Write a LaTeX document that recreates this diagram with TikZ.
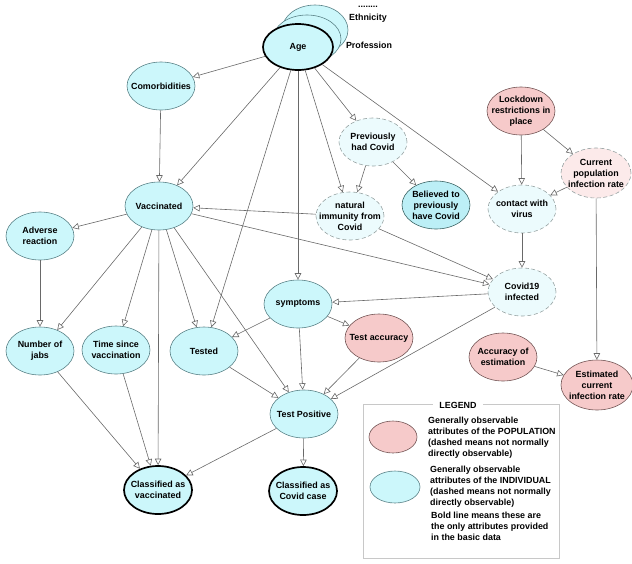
\documentclass[tikz,border=0pt]{standalone}
\usepackage{fontspec}
\setmainfont{Liberation Sans}
\usetikzlibrary{shapes.geometric,arrows.meta}
\definecolor{cyanfill}{RGB}{204,247,251}
\definecolor{cyanedge}{RGB}{90,130,135}
\definecolor{cyanlight}{RGB}{236,251,253}
\definecolor{dashedge}{RGB}{150,162,162}
\definecolor{pinkfill}{RGB}{246,202,202}
\definecolor{pinkedge}{RGB}{115,85,85}
\definecolor{pinklight}{RGB}{252,234,234}
\definecolor{belfill}{RGB}{188,239,246}
\definecolor{beledge}{RGB}{60,100,100}
\definecolor{edgec}{RGB}{105,105,105}
\definecolor{legedge}{RGB}{200,200,200}
\newcommand\lbl{\fontsize{8.9}{11}\selectfont\bfseries}
\tikzset{
  base/.style={ellipse, draw, minimum width=68pt, minimum height=48pt, inner sep=-10pt, align=center, font=\lbl, line width=0.6pt},
  ind/.style={base, fill=cyanfill, draw=cyanedge},
  indd/.style={base, fill=cyanlight, draw=dashedge, dash pattern=on 4pt off 2.5pt},
  pop/.style={base, fill=pinkfill, draw=pinkedge},
  popd/.style={base, fill=pinklight, draw=dashedge, dash pattern=on 4pt off 2.5pt},
  boldline/.style={line width=1.7pt, draw=black},
  arr/.style={draw=edgec, line width=0.6pt, -{Triangle[open, length=6.5pt, width=6.5pt]}},
  txt/.style={font=\lbl, inner sep=0pt},
  legtxt/.style={font=\lbl, inner sep=0pt, align=left, anchor=north west},
}
\begin{document}
\begin{tikzpicture}[x=1pt,y=-1pt]
\useasboundingbox (0,0) rectangle (632,563);
% Age stack
\node[ind, minimum width=66pt, minimum height=50pt] (agebackA) at (315,30) {};
\node[ind, minimum width=68pt, minimum height=48pt] (agebackB) at (307,39) {};
\node[ind, boldline, minimum width=70pt, minimum height=46pt] (age) at (298,47) {Age};
\node[txt] (dots) at (368,7) {........};
\node[txt] (eth) at (368,18) {Ethnicity};
\node[txt] (prof) at (369,45) {Profession};
% nodes
\node[ind] (com) at (161,86) {Comorbidities};
\node[ind] (vac) at (159,206) {Vaccinated};
\node[ind] (adv) at (40,236) {Adverse\\reaction};
\node[ind] (jabs) at (40,351) {Number of\\jabs};
\node[ind] (tsv) at (116,350) {Time since\\vaccination};
\node[ind] (tested) at (204,351) {Tested};
\node[ind] (sym) at (298,304) {symptoms};
\node[pop] (tacc) at (379,338) {Test accuracy};
\node[indd] (cov) at (522,292) {Covid19\\infected};
\node[pop] (aest) at (503,357) {Accuracy of\\estimation};
\node[pop, minimum width=72pt, minimum height=50pt] (ecir) at (597,385) {Estimated\\current\\infection rate};
\node[pop] (lock) at (521,111) {Lockdown\\restrictions in\\place};
\node[popd, minimum width=70pt, minimum height=50pt] (cpir) at (596,173) {Current\\population\\infection rate};
\node[indd] (cwv) at (522,209) {contact with\\virus};
\node[indd] (prev) at (373,142) {Previously\\had Covid};
\node[indd] (nat) at (350,216) {natural\\immunity from\\Covid};
\node[base, fill=belfill, draw=beledge] (bel) at (436,205) {Believed to\\previously\\have Covid};
\node[ind] (tpos) at (304,414) {Test Positive};
\node[ind, boldline] (clv) at (158,490) {Classified as\\vaccinated};
\node[ind, boldline] (clc) at (303,491) {Classified as\\Covid case};
% edges
\draw[arr] (age) -- (com);
\draw[arr] (age) -- (vac);
\draw[arr] (age) -- (tested);
\draw[arr] (age) -- (sym);
\draw[arr] (age) -- (nat);
\draw[arr] (age) -- (prev);
\draw[arr] (age) -- (cwv);
\draw[arr] (com) -- (vac);
\draw[arr] (vac) -- (adv);
\draw[arr] (vac) -- (jabs);
\draw[arr] (vac) -- (tsv);
\draw[arr] (vac) -- (clv);
\draw[arr] (vac) -- (tested);
\draw[arr] (vac) -- (tpos);
\draw[arr] (vac) -- (cov);
\draw[arr] (nat) -- (vac);
\draw[arr] (nat) -- (cov);
\draw[arr] (prev) -- (nat);
\draw[arr] (prev) -- (bel);
\draw[arr] (adv) -- (jabs);
\draw[arr] (jabs) -- (clv);
\draw[arr] (tsv) -- (clv);
\draw[arr] (sym) -- (tested);
\draw[arr] (sym) -- (tacc);
\draw[arr] (sym) -- (tpos);
\draw[arr] (tested) -- (tpos);
\draw[arr] (tacc) -- (tpos);
\draw[arr] (cov) -- (sym);
\draw[arr] (cov) -- (tpos);
\draw[arr] (cwv) -- (cov);
\draw[arr] (lock) -- (cwv);
\draw[arr] (lock) -- (cpir);
\draw[arr] (cpir) -- (cwv);
\draw[arr] (cpir) -- (ecir);
\draw[arr] (aest) -- (ecir);
\draw[arr] (tpos) -- (clv);
\draw[arr] (tpos) -- (clc);
% legend
\node[draw=legedge, line width=0.6pt, minimum width=196pt, minimum height=154pt, inner sep=0pt] (legbox) at (461,481) {};
\node[txt, fill=white, inner xsep=6pt, inner ysep=1pt] (legtitle) at (458,405) {LEGEND};
\node[base, fill=pinkfill, draw=pinkedge, minimum width=48pt, minimum height=32pt] (legpop) at (393,437) {};
\node[base, fill=cyanfill, draw=cyanedge, minimum width=50pt, minimum height=32pt] (legind) at (395,487) {};
\node[legtxt] (legt1) at (428,417) {Generally observable\\attributes of the POPULATION\\(dashed means not normally\\directly observable)};
\node[legtxt] (legt2) at (430,466) {Generally observable\\attributes of the INDIVIDUAL\\(dashed means not normally\\directly observable)};
\node[legtxt] (legt3) at (431,512) {Bold line means these are\\the only attributes provided\\in the basic data};
\end{tikzpicture}
\end{document}
